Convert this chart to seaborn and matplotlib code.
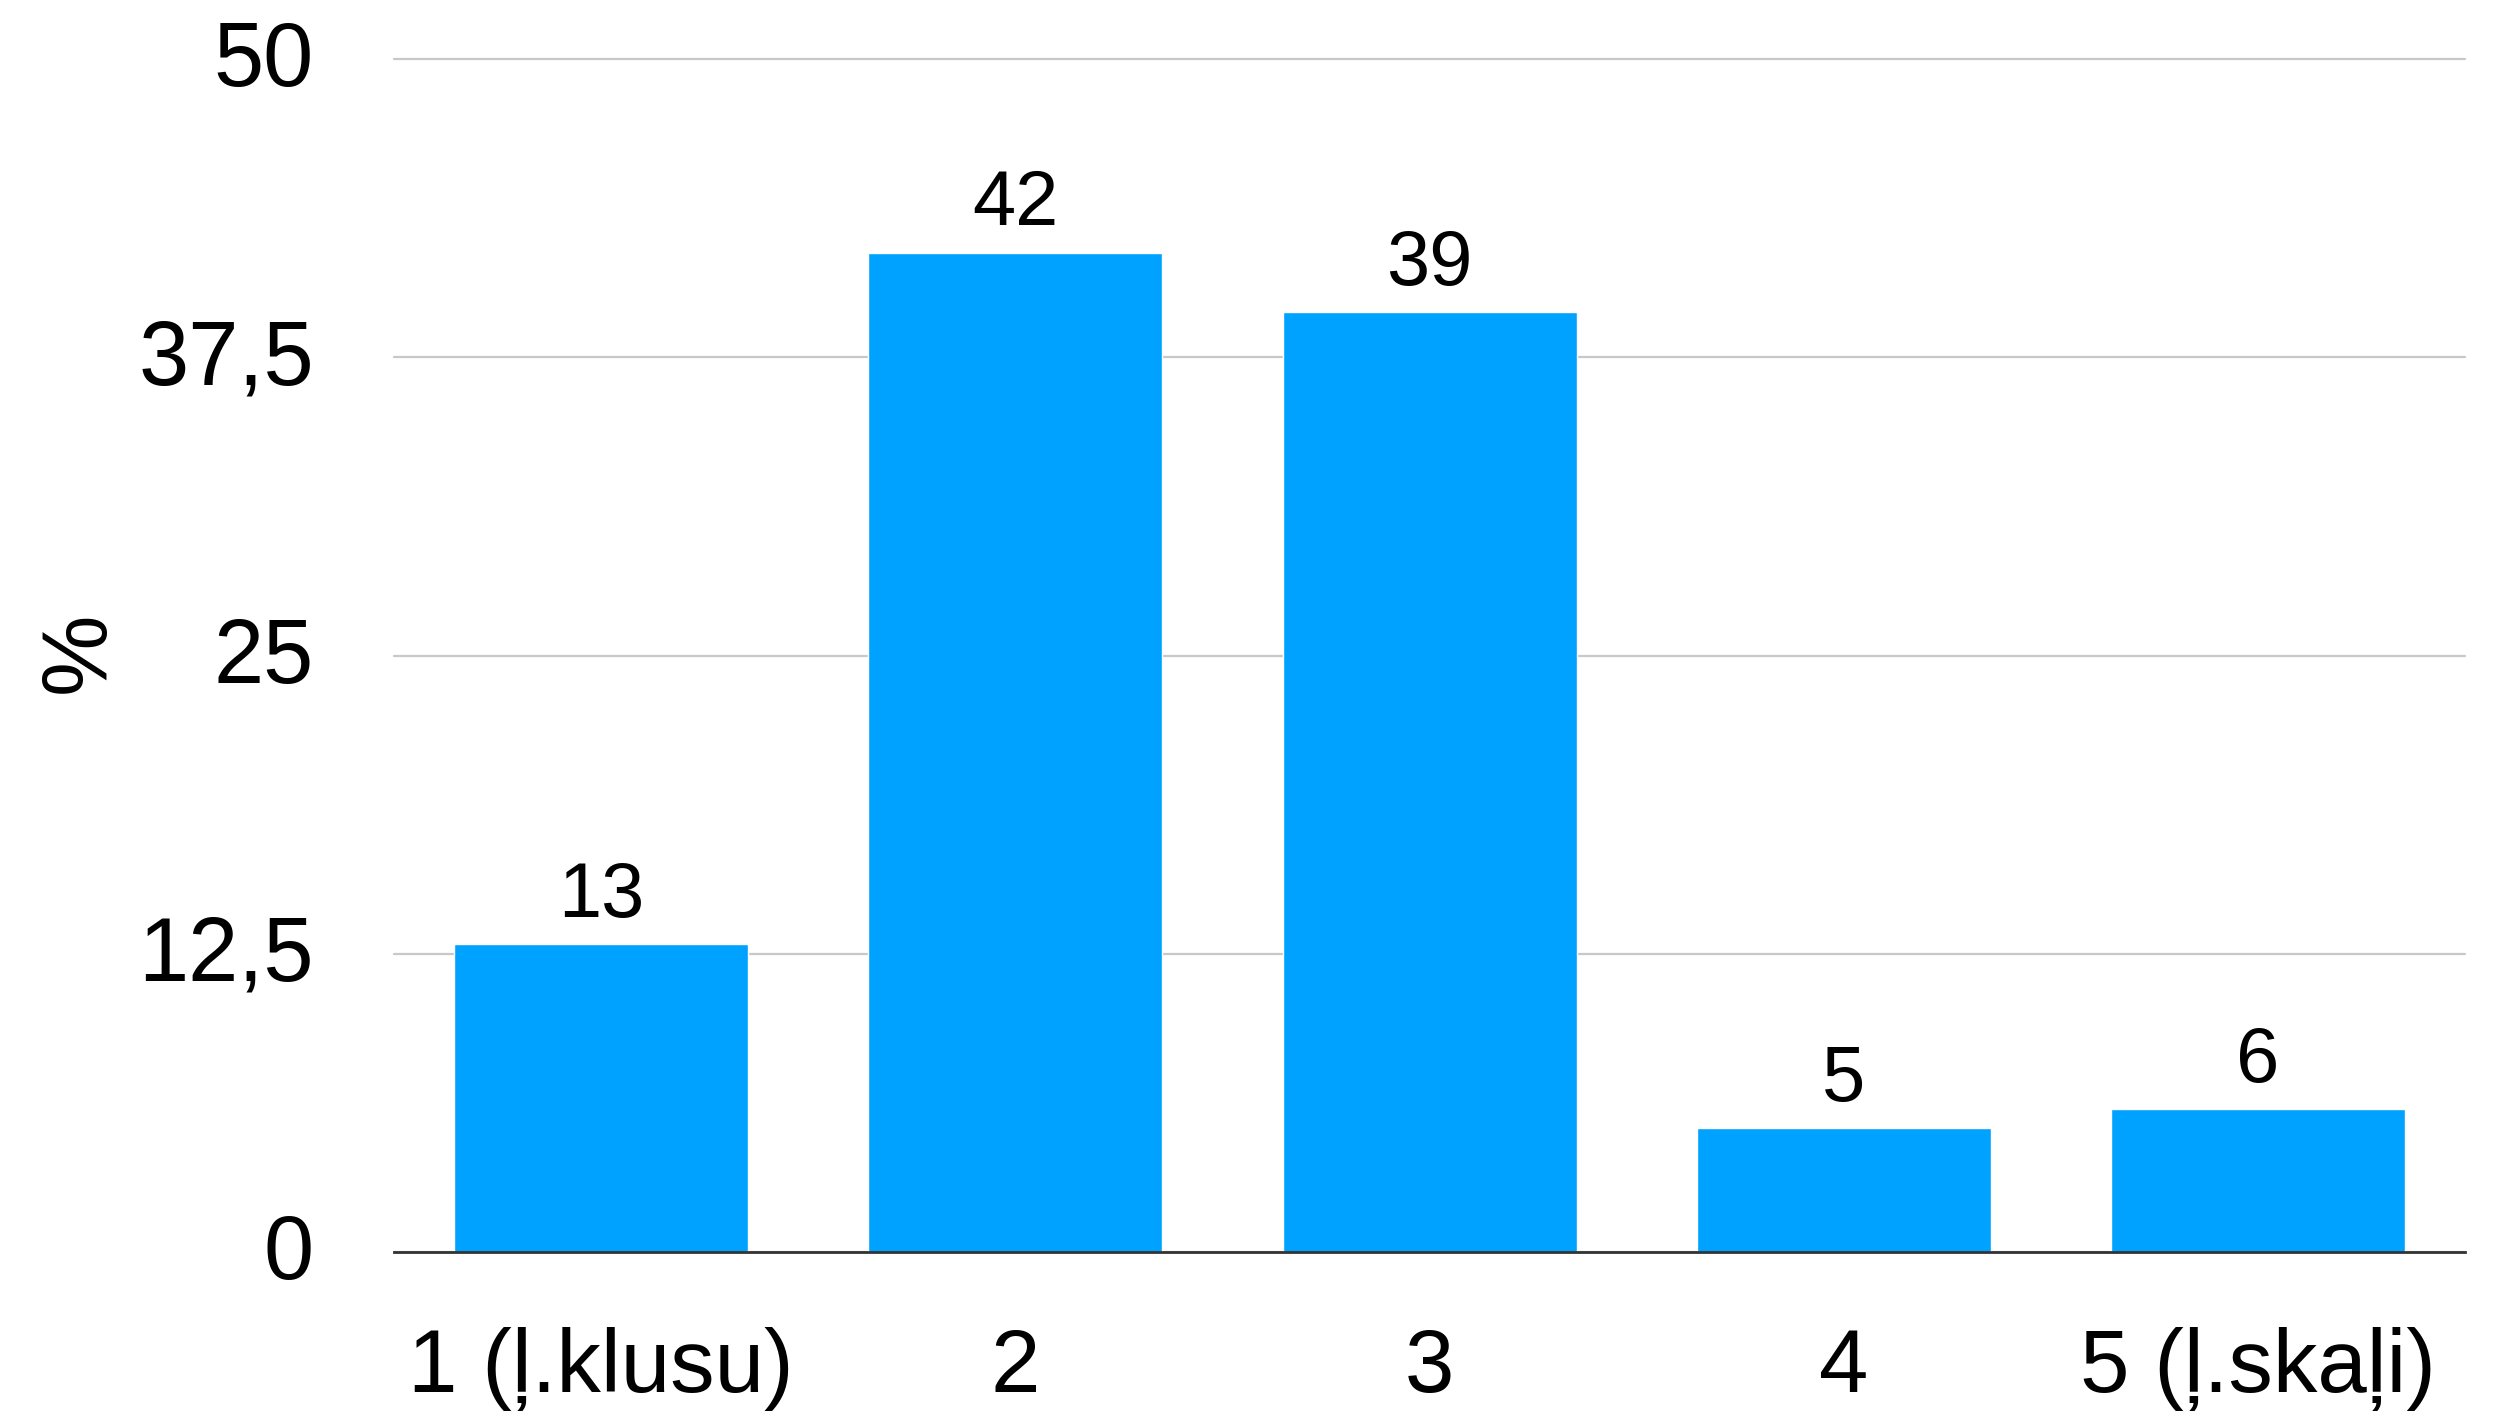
import pandas as pd
import matplotlib
matplotlib.use('Agg')
import matplotlib.pyplot as plt
import matplotlib.transforms as mtransforms
import seaborn as sns

categories = ['1 (ļ.klusu)', '2', '3', '4', '5 (ļ.skaļi)']
values = [12.9, 41.9, 39.4, 5.2, 6.0]
value_labels = ['13', '42', '39', '5', '6']
y_ticks = [0, 12.5, 25, 37.5, 50]
y_tick_labels = ['0', '12,5', '25', '37,5', '50']

sns.set_style('white')
plt.rcParams['font.family'] = ['Liberation Sans', 'DejaVu Sans']
plt.rcParams['text.color'] = 'black'
plt.rcParams['xtick.color'] = 'black'
plt.rcParams['ytick.color'] = 'black'

df = pd.DataFrame({'cat': categories, 'pct': values})

fig, ax = plt.subplots(figsize=(24.95, 14.13), dpi=100)
fig.subplots_adjust(left=0.158, right=0.988, top=0.958, bottom=0.114)

sns.barplot(data=df, x='cat', y='pct', color='#00A2FF', saturation=1,
            width=0.71, ax=ax, zorder=3)

ax.set_xlim(-0.5, 4.5)
ax.set_ylim(0, 50)
ax.set_yticks(y_ticks)
ax.set_yticklabels(y_tick_labels)
ax.set_xlabel('')
ax.set_ylabel('')

ax.grid(axis='y', color='#c8c8c8', linewidth=1.6, zorder=0)
for gl in ax.get_ygridlines():
    gl.set_clip_on(False)
ax.set_axisbelow(True)

for side in ['top', 'right', 'left']:
    ax.spines[side].set_visible(False)
ax.spines['bottom'].set_color('#333333')
ax.spines['bottom'].set_linewidth(2.0)
ax.spines['bottom'].set_zorder(4)

ax.tick_params(axis='y', length=0, pad=58, labelsize=65, labelcolor='black')
ax.tick_params(axis='x', length=0, pad=54, labelsize=64, labelcolor='black')

# nudge y tick labels up a little so they sit centred on the gridlines
shift = mtransforms.ScaledTranslation(0, 6 / 100, fig.dpi_scale_trans)
for lbl in ax.get_yticklabels():
    lbl.set_transform(lbl.get_transform() + shift)

for container in ax.containers:
    ax.bar_label(container, labels=value_labels, padding=8, fontsize=56, color='black')

fig.text(80 / 2495, 1 - 652 / 1413, '%', rotation=90, ha='center', va='center',
         fontsize=66, color='black')

fig.savefig('out.png', dpi=100, facecolor='white')
